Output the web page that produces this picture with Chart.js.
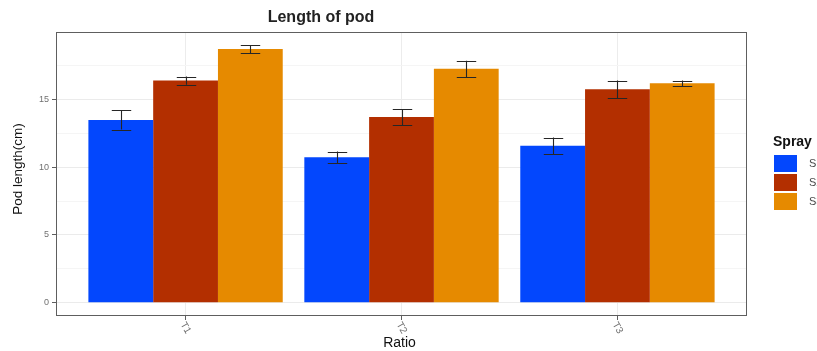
<!DOCTYPE html>
<html>
<head>
<meta charset="utf-8">
<title>Length of pod</title>
<script src="https://cdn.jsdelivr.net/npm/chart.js@4/dist/chart.umd.min.js"></script>
<style>
  html, body { margin: 0; padding: 0; background: #ffffff; }
  #wrap { width: 817px; height: 351px; }
</style>
</head>
<body>
<div id="wrap"><canvas id="c" width="817" height="351"></canvas></div>
<script>
// Treatments on the x axis
const ratios = ['T1', 'T2', 'T3'];
// Spray groups
const sprays = ['S1', 'S2', 'S3'];
const sprayColors = ['#0347fd', '#b32f00', '#e68a00'];

// Mean pod length (cm) per spray, one value per treatment
const podS1 = [13.47, 10.72, 11.57];
const podS2 = [16.37, 13.68, 15.73];
const podS3 = [18.69, 17.24, 16.17];

// Error bar half-widths (cm)
const errS1 = [0.71, 0.42, 0.60];
const errS2 = [0.30, 0.60, 0.64];
const errS3 = [0.28, 0.60, 0.20];

// Y axis ticks: labelled majors and unlabelled minors
const yMajorTicks = [0, 5, 10, 15];
const yMinorTicks = [2.5, 7.5, 12.5, 17.5];

const values = [podS1, podS2, podS3];
const errors = [errS1, errS2, errS3];

const datasets = sprays.map((name, s) => ({
  label: name,
  data: values[s].map((v, i) => ({ x: i + 1, y: v })),
  backgroundColor: sprayColors[s],
  borderWidth: 0,
  barPercentage: 1,
  categoryPercentage: 0.9,
  errors: errors[s]
}));

const isMajor = v => yMajorTicks.includes(v);

// Error bars, panel border, titles, rotated x labels and legend
const decorations = {
  id: 'decorations',
  afterDatasetsDraw(chart) {
    const ctx = chart.ctx;
    const y = chart.scales.y;
    ctx.save();
    ctx.strokeStyle = '#262626';
    ctx.lineWidth = 1.1;
    chart.data.datasets.forEach((ds, di) => {
      const meta = chart.getDatasetMeta(di);
      meta.data.forEach((bar, i) => {
        const v = ds.data[i].y, e = ds.errors[i];
        const yt = y.getPixelForValue(v + e);
        const yb = y.getPixelForValue(v - e);
        const hw = bar.width * 0.15;
        const x = Math.round(bar.x) + 0.5;
        ctx.beginPath();
        ctx.moveTo(x, yt); ctx.lineTo(x, yb);
        ctx.moveTo(x - hw, Math.round(yt) + 0.5); ctx.lineTo(x + hw, Math.round(yt) + 0.5);
        ctx.moveTo(x - hw, Math.round(yb) + 0.5); ctx.lineTo(x + hw, Math.round(yb) + 0.5);
        ctx.stroke();
      });
    });
    ctx.restore();
  },
  afterDraw(chart) {
    const ctx = chart.ctx;
    const a = chart.chartArea;
    const xs = chart.scales.x;
    ctx.save();
    // panel border
    ctx.strokeStyle = '#5e5e5e';
    ctx.lineWidth = 1;
    ctx.strokeRect(a.left + 0.5, a.top + 0.5, a.right - a.left - 1, a.bottom - a.top - 1);

    // chart title
    ctx.fillStyle = '#222222';
    ctx.font = 'bold 16px "Liberation Sans", Arial, sans-serif';
    ctx.textAlign = 'center';
    ctx.textBaseline = 'middle';
    ctx.fillText('Length of pod', 321, 18);

    // axis titles
    ctx.font = '14px "Liberation Sans", Arial, sans-serif';
    ctx.fillStyle = '#111111';
    ctx.fillText('Ratio', (a.left + a.right) / 2 - 2, 343);
    ctx.save();
    ctx.translate(18, (a.top + a.bottom) / 2 - 5);
    ctx.rotate(-Math.PI / 2);
    ctx.font = '13.5px "Liberation Sans", Arial, sans-serif';
    ctx.fillText('Pod length(cm)', 0, 0);
    ctx.restore();

    // rotated category labels
    ctx.font = '10px "Liberation Sans", Arial, sans-serif';
    ctx.fillStyle = '#707070';
    ratios.forEach((lab, i) => {
      const px = xs.getPixelForValue(i + 1);
      ctx.save();
      ctx.translate(px, 328);
      ctx.rotate(Math.PI / 3);
      ctx.textAlign = 'center';
      ctx.textBaseline = 'middle';
      ctx.fillText(lab, 0, 0);
      ctx.restore();
    });

    // legend
    ctx.textAlign = 'left';
    ctx.textBaseline = 'middle';
    ctx.fillStyle = '#111111';
    ctx.font = 'bold 14px "Liberation Sans", Arial, sans-serif';
    ctx.fillText('Spray', 773, 142);
    ctx.font = '11px "Liberation Sans", Arial, sans-serif';
    sprays.forEach((name, s) => {
      const top = 155 + s * 19;
      ctx.fillStyle = sprayColors[s];
      ctx.fillRect(774, top, 23, 17);
      ctx.fillStyle = '#4a4a4a';
      ctx.fillText(name, 809, top + 9);
    });
    ctx.restore();
  }
};

new Chart(document.getElementById('c'), {
  type: 'bar',
  data: { datasets },
  plugins: [decorations],
  options: {
    responsive: false,
    animation: false,
    devicePixelRatio: 1,
    layout: { padding: { top: 32, right: 70, left: 0, bottom: 0 } },
    plugins: {
      legend: { display: false },
      title: { display: false },
      tooltip: { enabled: false }
    },
    scales: {
      x: {
        type: 'linear',
        offset: false,
        min: 0.4,
        max: 3.6,
        afterBuildTicks: s => { s.ticks = ratios.map((r, i) => ({ value: i + 1 })); },
        afterFit: s => { s.height = 35; },
        ticks: { display: false },
        border: { display: false },
        grid: {
          offset: false,
          color: '#ececec',
          lineWidth: 1,
          drawTicks: true,
          tickLength: 4,
          tickColor: '#5e5e5e'
        }
      },
      y: {
        type: 'linear',
        min: -0.97,
        max: 19.95,
        afterBuildTicks: s => {
          s.ticks = [...yMajorTicks, ...yMinorTicks].sort((p, q) => p - q).map(v => ({ value: v }));
        },
        afterFit: s => { s.width = 56; },
        border: { display: false },
        ticks: {
          padding: 3,
          color: '#707070',
          font: { size: 9, family: '"Liberation Sans", Arial, sans-serif' },
          callback: v => (isMajor(v) ? String(v) : '')
        },
        grid: {
          color: c => (isMajor(c.tick.value) ? '#ebebeb' : '#f5f5f5'),
          lineWidth: 1,
          drawTicks: true,
          tickLength: 4,
          tickColor: c => (isMajor(c.tick.value) ? '#5e5e5e' : 'rgba(0,0,0,0)')
        }
      }
    }
  }
});
</script>
</body>
</html>
